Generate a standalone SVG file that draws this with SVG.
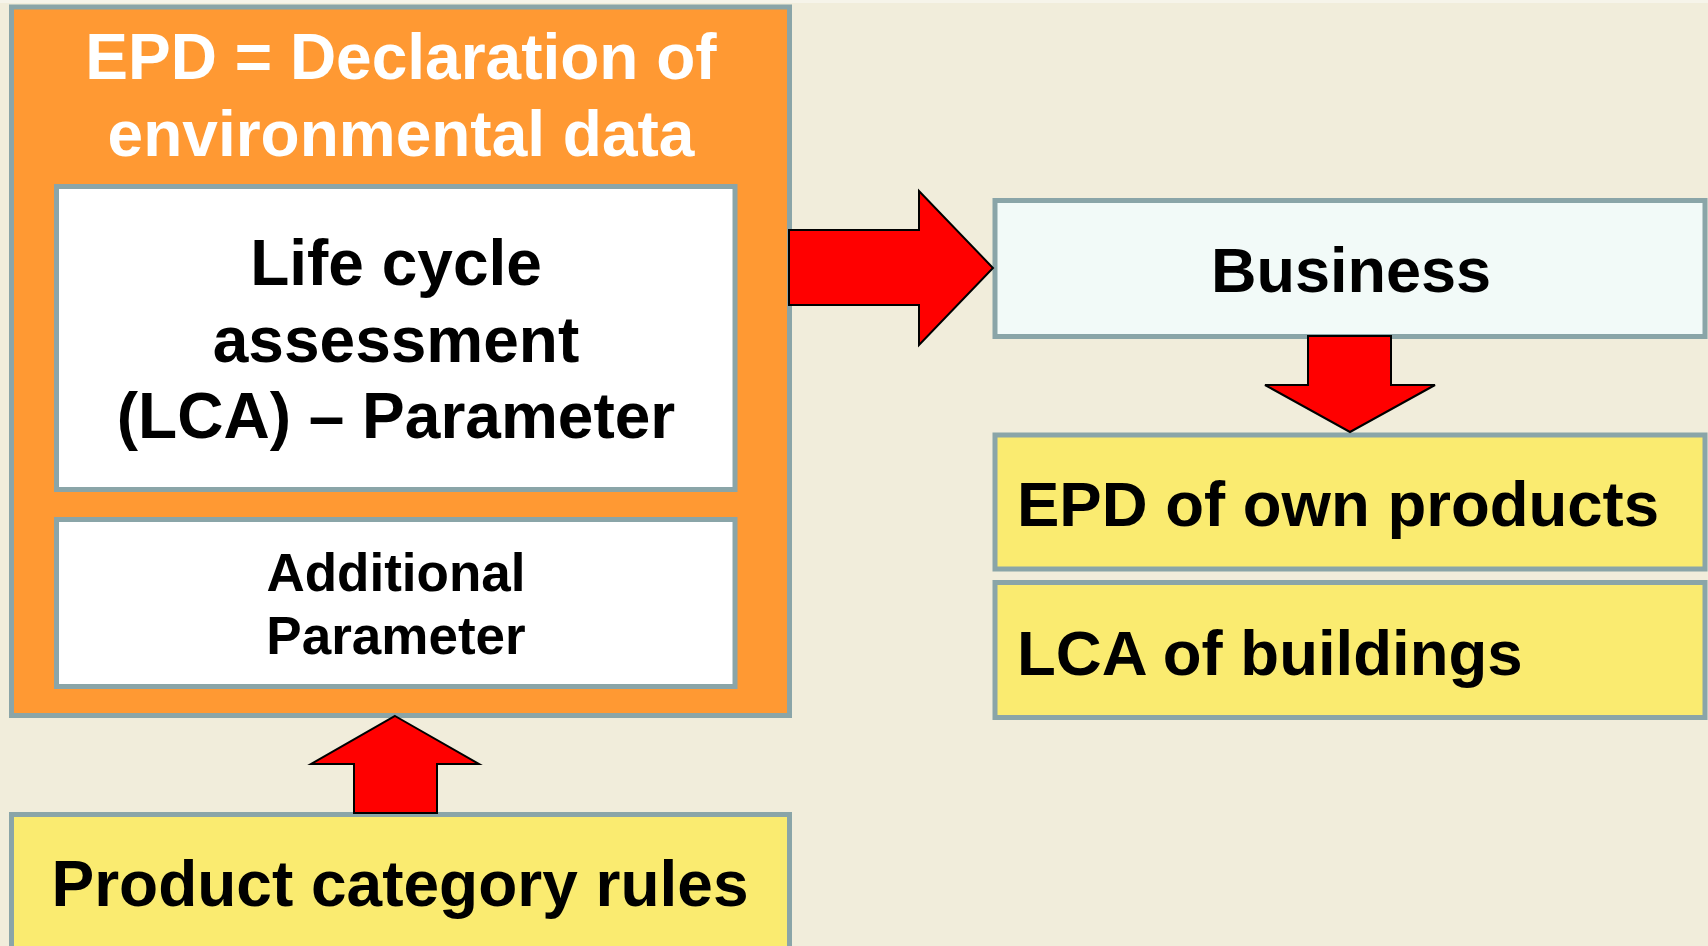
<svg xmlns="http://www.w3.org/2000/svg" width="1708" height="946" viewBox="0 0 1708 946">
<style>
.box{stroke:#8AA5A8;stroke-width:5}
.orange{fill:#FF9933}
.white{fill:#FFFFFF}
.yellow{fill:#FAEB70}
.light{fill:#F2FAF8}
.t{font-family:"Liberation Sans",Arial,sans-serif;font-weight:bold;fill:#000}
.w{fill:#FFFFFF}
.arrow{fill:#FF0000;stroke:#000;stroke-width:2;stroke-linejoin:miter}
</style>
<rect x="0" y="0" width="1708" height="946" fill="#F1EDDB"/>
<rect x="0" y="0" width="1708" height="3" fill="#F6F4EA"/>

<g id="epd">
<rect class="box orange" x="11.5" y="7" width="778" height="708.5"/>
<text class="t w" x="401" y="79" font-size="64" text-anchor="middle">EPD = Declaration of</text>
<text class="t w" x="401" y="156" font-size="64" text-anchor="middle">environmental data</text>
</g>
<g id="lca">
<rect class="box white" x="56.5" y="186.5" width="678.5" height="303"/>
<text class="t" x="396" y="285" font-size="64" text-anchor="middle">Life cycle</text>
<text class="t" x="396" y="362" font-size="64" text-anchor="middle">assessment</text>
<text class="t" x="396" y="438" font-size="64" text-anchor="middle">(LCA) – Parameter</text>
</g>
<g id="additional">
<rect class="box white" x="56.5" y="519.5" width="678.5" height="167"/>
<text class="t" x="396" y="591" font-size="53" text-anchor="middle">Additional</text>
<text class="t" x="396" y="654" font-size="53" text-anchor="middle">Parameter</text>
</g>
<g id="pcr">
<rect class="box yellow" x="11.5" y="814.5" width="778" height="200"/>
<text class="t" x="400" y="906" font-size="64" text-anchor="middle">Product category rules</text>
</g>
<g id="business">
<rect class="box light" x="995" y="200.5" width="710" height="136"/>
<text class="t" x="1351" y="292" font-size="63" text-anchor="middle">Business</text>
</g>
<g id="epd-own">
<rect class="box yellow" x="995" y="435" width="710" height="134"/>
<text class="t" x="1017" y="526" font-size="63.5">EPD of own products</text>
</g>
<g id="lca-buildings">
<rect class="box yellow" x="995" y="582.5" width="710" height="135"/>
<text class="t" x="1017" y="675" font-size="63.5">LCA of buildings</text>
</g>

<g id="connectors">
<polygon class="arrow" points="789,230 919,230 919,191 993,268 919,345 919,305 789,305"/>
<polygon class="arrow" points="1308,336 1391,336 1391,385 1435,385 1350,432 1265,385 1308,385"/>
<polygon class="arrow" points="395,716 479,764 437,764 437,813 354,813 354,764 311,764"/>
</g>
</svg>
